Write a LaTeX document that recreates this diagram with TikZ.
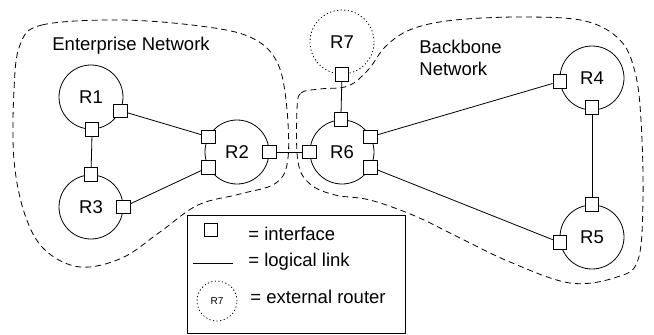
\documentclass[tikz,border=0pt]{standalone}
\usepackage{fontspec}
\setmainfont{Liberation Sans}
\tikzset{
    router/.style = {
        circle,
        draw,
        minimum size=64pt,
        inner sep=0pt,
        },
    ext router/.style = {
        router,
        dash pattern=on 1.2pt off 2.4pt,
        },
    iface/.style = {
        draw,
        fill=white,
        minimum size=13.5pt,
        inner sep=0pt,
        },
    region/.style = {
        dash pattern=on 6pt off 4pt,
        },
    legend text/.style = {
        anchor=base west,
        inner sep=0pt,
        },
}

\begin{document}
\begin{tikzpicture}[
                x=1pt, y=-1pt,
                line width=0.8pt,
                font=\fontsize{18.5}{22}\selectfont,
            ]
            \useasboundingbox (0,0) rectangle (654,335);

            % dashed network borders
            \draw[region] plot[smooth cycle, tension=0.6] coordinates {
                (20,45) (42,25) (120,20) (200,26) (250,37) (276,60) (286,100)
                (288,158) (276,183) (240,194) (198,205) (160,232) (122,258)
                (80,267) (45,250) (25,215) (14,160) (14,90)};
            \draw[region] plot[smooth cycle, tension=0.6] coordinates {
                (297,110) (301,93) (320,89) (348,86) (368,70) (386,46) (412,29)
                (455,20) (525,17) (585,21) (620,40) (635,72) (641,120) (643,200)
                (638,260) (617,277) (570,283) (510,262) (460,238) (415,216)
                (370,200) (335,195) (310,184) (298,162)};
            \node[legend text] (ent) at (52,50) {Enterprise Network};
            \node[anchor=west, align=left, inner sep=0pt] (bb) at (419,58) {Backbone\\Network};

            % routers
            \node[router] (R1) at (91,97) {R1};
            \node[router] (R3) at (91,207) {R3};
            \node[router] (R2) at (237,152) {R2};
            \node[router] (R6) at (342,152) {R6};
            \node[ext router] (R7) at (342,42) {R7};
            \node[router] (R4) at (592,78) {R4};
            \node[router] (R5) at (592,237) {R5};

            % interfaces
            \node[iface] (R1s) at (R1.-88) {};
            \node[iface] (R1e) at (R1.-25) {};
            \node[iface] (R3n) at (R3.90) {};
            \node[iface] (R3e) at (R3.0) {};
            \node[iface] (R2a) at (R2.152) {};
            \node[iface] (R2b) at (R2.-152) {};
            \node[iface] (R2e) at (R2.0) {};
            \node[iface] (R6w) at (R6.180) {};
            \node[iface] (R6n) at (R6.92) {};
            \node[iface] (R6a) at (R6.28) {};
            \node[iface] (R6b) at (R6.-28) {};
            \node[iface] (R7s) at (R7.-90) {};
            \node[iface] (R4w) at (R4.-174) {};
            \node[iface, yshift=3pt] (R4s) at (R4.-90) {};
            \node[iface] (R5n) at (R5.90) {};
            \node[iface] (R5w) at (R5.-170) {};

            % logical links
            \draw (R1s) -- (R3n);
            \draw (R1e) -- (R2a);
            \draw (R3e) -- (R2b);
            \draw (R2e) -- (R6w);
            \draw (R7s) -- (R6n);
            \draw (R6a) -- (R4w);
            \draw (R6b) -- (R5w);
            \draw (R4s) -- (R5n);

            % legend
            \node[draw, minimum width=218pt, minimum height=118pt, inner sep=0pt] (legend) at (296,274) {};
            \node[iface] (lif) at (211,230) {};
            \node[legend text] (lift) at (248,240) {= interface};
            \coordinate (lla) at (193,263);
            \coordinate (llb) at (233,263);
            \draw (lla) -- (llb);
            \node[legend text] (llt) at (248,266) {= logical link};
            \node[ext router, minimum size=40pt, font=\fontsize{10}{12}\selectfont] (lr7) at (217,301) {R7};
            \node[legend text] (lr7t) at (250,303) {= external router};
        \end{tikzpicture}
\end{document}
